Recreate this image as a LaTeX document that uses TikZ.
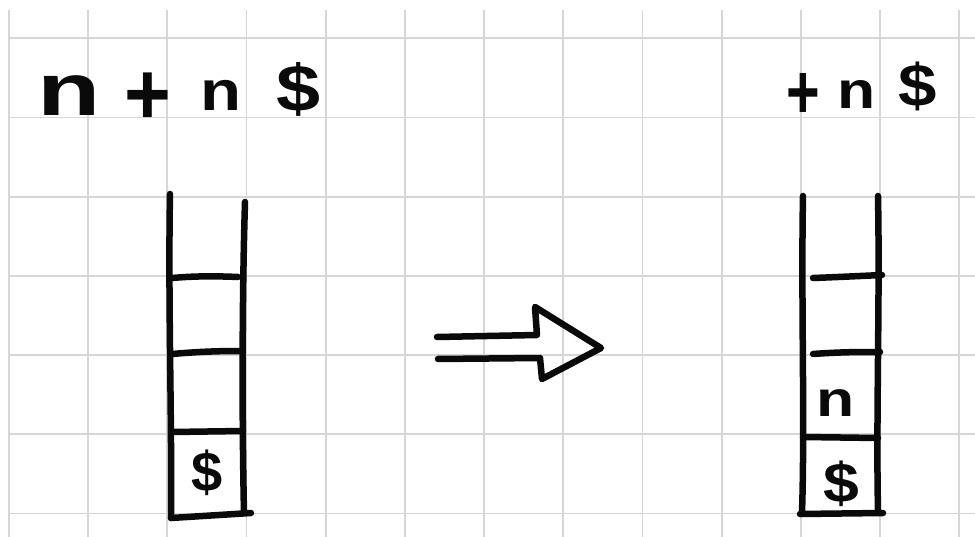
\documentclass[tikz,border=0pt]{standalone}
\usepackage{fontspec}
\setmainfont{Liberation Sans}
\definecolor{gridgray}{HTML}{D6D6D6}
\definecolor{ink}{HTML}{0A0A0A}
\tikzset{
  gridline/.style={draw=gridgray, line width=1.8pt},
  ink/.style={draw=ink, line width=6.5pt, line cap=round, line join=round},
  glyph/.style={inner sep=0pt, outer sep=0pt, text=ink, font=\bfseries},
}
\begin{document}
\begin{tikzpicture}[x=1pt,y=-1pt]
\useasboundingbox (0,0) rectangle (975,537);
\fill[white] (0,0) rectangle (975,537);
% grid
\foreach \i in {0,...,12} {
  \draw[gridline] ({8.8+79.2*\i},10) -- ({8.8+79.2*\i},537);
}
\foreach \j in {0,...,6} {
  \draw[gridline] (8.8,{38.3+79.2*\j}) -- (975,{38.3+79.2*\j});
}
% top left text
\node[glyph, font=\bfseries\fontsize{74}{74}\selectfont, xscale=1.4] (n1) at (69,96) {n};
\node[glyph, font=\bfseries\fontsize{80}{80}\selectfont, yscale=1.1] (p1) at (148,99) {+};
\node[glyph, font=\bfseries\fontsize{56}{56}\selectfont, xscale=1.2] (n2) at (221,95) {n};
\node[glyph, font=\bfseries\fontsize{66}{66}\selectfont, xscale=1.2] (d1) at (299,89) {\$};
% top right text
\node[glyph, font=\bfseries\fontsize{64}{64}\selectfont, yscale=1.2, xscale=0.9] (p2) at (803,96) {+};
\node[glyph, font=\bfseries\fontsize{52}{52}\selectfont, xscale=1.2] (n3) at (857,94) {n};
\node[glyph, font=\bfseries\fontsize{60}{60}\selectfont, xscale=1.15] (d2) at (918,86) {\$};
% left stack
\coordinate (L1) at (170,194);
\coordinate (L2) at (171,518);
\coordinate (R1) at (245,202);
\coordinate (R2) at (244,513);
\coordinate (B2) at (251,513);
\draw[ink] (L1) .. controls (168,300) and (172,420) .. (L2);
\draw[ink] (R1) .. controls (242,300) and (242,420) .. (R2);
\draw[ink] (L2) -- (B2);
\coordinate (a1) at (172,278); \coordinate (a2) at (238,277);
\coordinate (b1) at (172,354); \coordinate (b2) at (240,351);
\coordinate (c1) at (172,432); \coordinate (c2) at (243,431);
\draw[ink] (a1) .. controls (195,276) and (215,276) .. (a2);
\draw[ink] (b1) .. controls (195,352) and (215,351) .. (b2);
\draw[ink] (c1) -- (c2);
\node[glyph, font=\bfseries\fontsize{56}{56}\selectfont] (d3) at (207,473) {\$};
% arrow
\coordinate (s1) at (437,337);
\coordinate (s2) at (537,335);
\coordinate (k1) at (535,307);
\coordinate (tip) at (601,348);
\coordinate (k2) at (542,379);
\coordinate (s3) at (540,358);
\coordinate (s4) at (438,359);
\draw[ink] (s1) -- (s2) -- (k1) -- (tip) -- (k2) -- (s3) -- (s4);
% right stack
\coordinate (RL1) at (803,196);
\coordinate (RL2) at (802,513);
\coordinate (RR1) at (878,196);
\coordinate (RR2) at (878,510);
\coordinate (RB1) at (800,514);
\coordinate (RB2) at (883,513);
\draw[ink] (RL1) .. controls (801,300) and (805,420) .. (RL2);
\draw[ink] (RR1) .. controls (880,300) and (876,420) .. (RR2);
\draw[ink] (RB1) -- (RB2);
\coordinate (e1) at (813,278); \coordinate (e2) at (882,275);
\coordinate (f1) at (813,354); \coordinate (f2) at (880,352);
\coordinate (g1) at (803,437); \coordinate (g2) at (878,438);
\draw[ink] (e1) .. controls (840,277) and (860,276) .. (e2);
\draw[ink] (f1) .. controls (840,352) and (860,352) .. (f2);
\draw[ink] (g1) -- (g2);
\node[glyph, font=\bfseries\fontsize{50}{50}\selectfont, xscale=1.25] (n4) at (836,403) {n};
\node[glyph, font=\bfseries\fontsize{56}{56}\selectfont, xscale=1.15] (d4) at (841,484) {\$};
\end{tikzpicture}
\end{document}
